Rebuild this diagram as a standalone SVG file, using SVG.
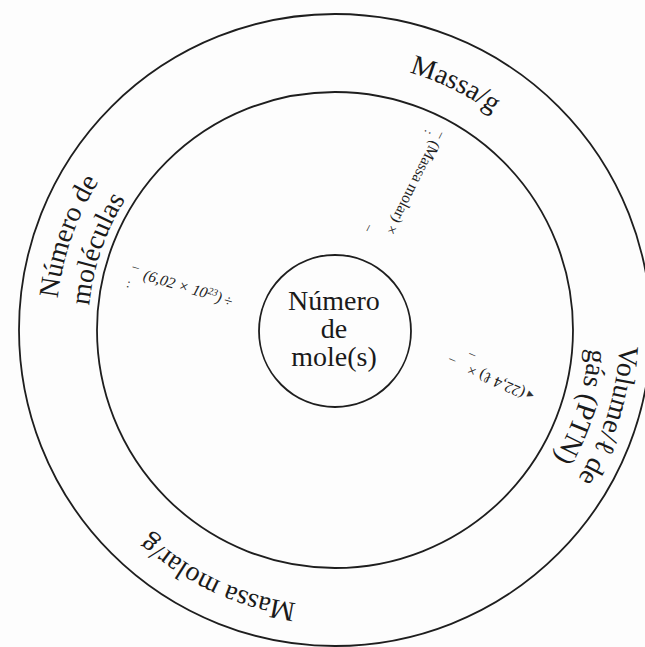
<svg xmlns="http://www.w3.org/2000/svg" xmlns:xlink="http://www.w3.org/1999/xlink" width="645" height="647" viewBox="0 0 645 647">
  <style>
    .ring { fill: none; stroke: #1e1e1e; stroke-width: 1.8; }
    .lbl { font-family: "Liberation Serif", "Times New Roman", serif; font-size: 28px; fill: #1a1a1a; }
    .ann { font-family: "Liberation Serif", "Times New Roman", serif; font-size: 15.5px; fill: #222; }
    .mark { font-family: "Liberation Serif", "Times New Roman", serif; font-size: 13px; fill: #333; }
  </style>
  <defs>
    <path id="c268" d="M335,598 A268,268 0 1 1 335,62 A268,268 0 1 1 335,598"/>
    <path id="c279" d="M335,609 A279,279 0 1 1 335,51 A279,279 0 1 1 335,609"/>
    <path id="c247" d="M335,577 A247,247 0 1 1 335,83 A247,247 0 1 1 335,577"/>
    <path id="c285" d="M335,615 A285,285 0 1 1 335,45 A285,285 0 1 1 335,615"/>
    <path id="c254" d="M335,584 A254,254 0 1 1 335,76 A254,254 0 1 1 335,584"/>
    <path id="c276" d="M335,606 A276,276 0 1 1 335,54 A276,276 0 1 1 335,606"/>
  </defs>
  <rect x="0" y="0" width="645" height="647" fill="#fdfdfd"/>

  <g id="ring-outer">
    <circle class="ring" cx="335" cy="330" r="316"/>
  </g>
  <g id="ring-middle">
    <circle class="ring" cx="335" cy="330" r="238"/>
  </g>
  <g id="node-moles">
    <circle class="ring" cx="335" cy="331" r="76"/>
    <text class="lbl" text-anchor="middle" x="334" y="310">Número</text>
    <text class="lbl" text-anchor="middle" x="334" y="338">de</text>
    <text class="lbl" text-anchor="middle" x="334" y="366">mole(s)</text>
  </g>

  <g id="node-massa">
    <text class="lbl" text-anchor="middle"><textPath xlink:href="#c268" startOffset="963.6">Massa/g</textPath></text>
  </g>
  <g id="node-moleculas">
    <text class="lbl" text-anchor="middle"><textPath xlink:href="#c279" startOffset="532.2">Número de</textPath></text>
    <text class="lbl" text-anchor="middle"><textPath xlink:href="#c247" startOffset="469.0">moléculas</textPath></text>
  </g>
  <g id="node-volume">
    <text class="lbl" text-anchor="middle"><textPath xlink:href="#c285" startOffset="1428.6">Volume/ℓ de</textPath></text>
    <text class="lbl" text-anchor="middle"><textPath xlink:href="#c254" startOffset="1273.2">gás (PTN)</textPath></text>
  </g>
  <g id="node-massamolar">
    <text class="lbl" text-anchor="middle"><textPath xlink:href="#c276" startOffset="121.6">Massa molar/g</textPath></text>
  </g>

  <g id="connectors">
    <g id="conn-massa" transform="translate(436,142) rotate(116.6)">
      <text class="mark" x="-11" y="2">–</text>
      <text class="mark" x="-7" y="15">:</text>
      <text class="ann" x="0" y="5">(Massa molar) ×</text>
      <text class="mark" x="104" y="25">–</text>
    </g>
    <g id="conn-moleculas" transform="translate(144,274.5) rotate(16.8)">
      <text class="mark" x="-13" y="-1">–</text>
      <text class="mark" x="-14" y="17">:</text>
      <text class="ann" font-style="italic" x="0" y="5">(6,02 × 10<tspan font-size="10" dy="-5">23</tspan><tspan dy="5">)</tspan></text>
      <text class="ann" x="84" y="6">÷</text>
    </g>
    <g id="conn-volume" transform="translate(524,394) rotate(204)">
      <text class="mark" x="-10" y="5">◂</text>
      <text class="ann" x="0" y="5">(22,4 ℓ) ×</text>
      <text class="mark" x="76" y="5">–</text>
      <text class="mark" x="60" y="18">–</text>
    </g>
  </g>
</svg>
